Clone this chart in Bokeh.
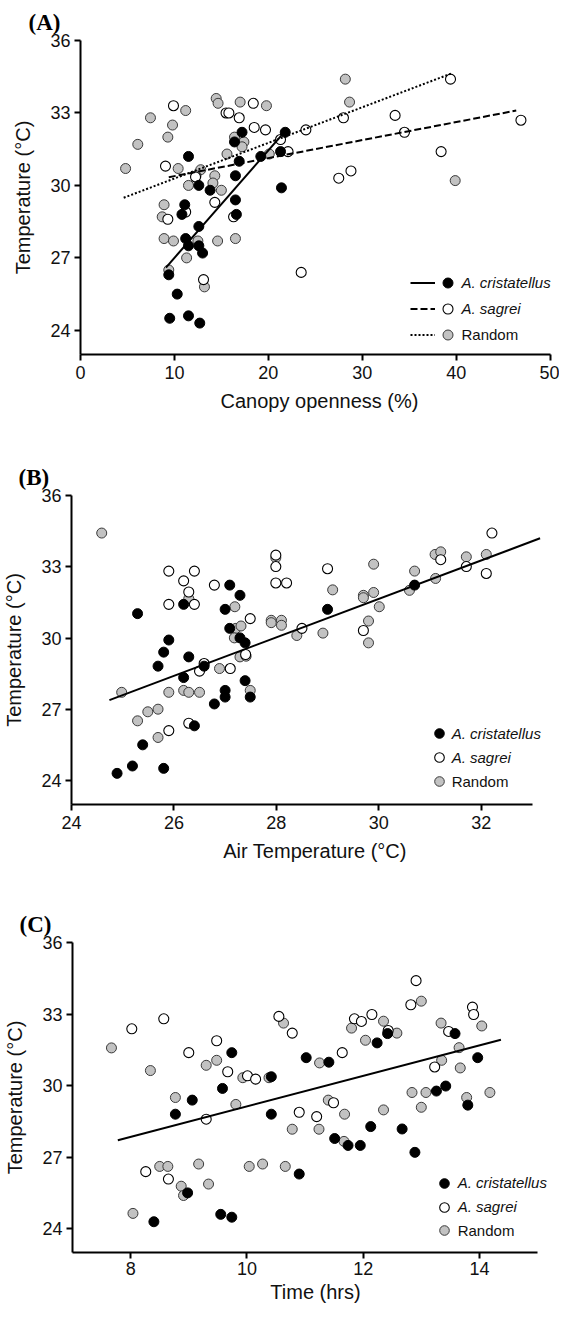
from bokeh.plotting import figure
from bokeh.models import Range1d, FixedTicker, Legend, LegendItem
from bokeh.embed import file_html
from bokeh.resources import INLINE

# ---------------- Data ----------------
# Panel A: canopy openness (%) vs temperature
a_cris_x = [11.5, 17.2, 16.4, 16.9, 16.5, 12.6, 13.8, 11.1, 10.8, 16.5, 16.6, 12.6, 11.2,
            11.5, 12.6, 13.0, 9.4, 10.3, 9.5, 11.5, 12.7, 19.2, 21.3, 21.8, 21.4]
a_cris_y = [31.2, 32.2, 31.8, 31.0, 30.4, 30.0, 29.8, 29.2, 28.8, 29.4, 28.8, 28.3, 27.8,
            27.5, 27.5, 27.2, 26.3, 25.5, 24.5, 24.6, 24.3, 31.2, 31.4, 32.2, 29.9]
a_sag_x = [9.9, 9.05, 12.25, 14.3, 11.2, 9.3, 16.3, 13.1, 15.5, 15.8, 16.9, 18.4, 18.5,
           19.7, 21.3, 22.1, 23.5, 24.0, 28.0, 33.5, 34.5, 39.4, 46.9, 38.4, 27.5, 28.8]
a_sag_y = [33.3, 30.8, 30.35, 29.3, 28.9, 28.6, 28.7, 26.1, 33.0, 33.0, 32.8, 33.4, 32.4,
           32.3, 31.9, 31.4, 26.4, 32.3, 32.8, 32.9, 32.2, 34.4, 32.7, 31.4, 30.3, 30.6]
a_rand_x = [4.8, 6.1, 7.45, 9.3, 9.8, 11.2, 10.4, 12.8, 12.3, 14.3, 14.1, 15.0, 11.5, 8.9,
            8.7, 8.9, 9.9, 12.5, 14.6, 16.5, 11.3, 9.4, 13.2, 14.45, 14.65, 17.0, 19.8,
            16.4, 17.4, 17.2, 15.6, 20.1, 28.2, 28.65, 39.9]
a_rand_y = [30.7, 31.7, 32.8, 32.0, 32.5, 33.1, 30.7, 30.65, 30.4, 30.4, 30.1, 29.8, 30.0,
            29.2, 28.7, 27.8, 27.7, 27.7, 27.7, 27.8, 27.0, 26.5, 25.8, 33.6, 33.4, 33.45,
            33.3, 32.0, 31.8, 31.6, 31.3, 31.3, 34.4, 33.45, 30.2]
a_fit_cris_x = [9.1, 21.8]
a_fit_cris_y = [26.6, 32.25]
a_fit_sag_x = [9.4, 46.4]
a_fit_sag_y = [30.34, 33.1]
a_fit_rand_x = [4.6, 39.6]
a_fit_rand_y = [29.49, 34.65]
a_xticks = [0, 10, 20, 30, 40, 50]

# Panel B: air temperature vs temperature
b_cris_x = [24.89, 25.19, 25.80, 25.39, 26.40, 25.29, 25.90, 25.80, 25.69, 26.29, 26.19,
            26.59, 26.19, 26.79, 27.0, 27.0, 27.0, 27.09, 27.09, 27.29, 27.29, 27.39,
            27.39, 27.49, 29.0, 30.70]
b_cris_y = [24.31, 24.62, 24.52, 25.51, 26.31, 31.03, 29.92, 29.41, 28.82, 29.21, 28.34,
            28.82, 31.42, 27.23, 27.52, 27.80, 31.21, 32.23, 30.41, 31.80, 30.01, 29.80,
            28.21, 27.52, 31.21, 32.23]
b_sag_x = [25.90, 25.90, 26.19, 26.29, 26.40, 26.40, 26.79, 27.49, 26.59, 26.50, 27.10,
           27.40, 25.90, 26.29, 27.99, 27.99, 27.99, 28.20, 28.50, 29.0, 29.70, 31.21,
           31.71, 32.10, 32.21]
b_sag_y = [32.82, 31.42, 32.41, 31.94, 32.82, 31.42, 32.23, 30.82, 28.93, 28.61, 28.72,
           29.31, 26.11, 26.42, 33.49, 33.01, 32.32, 32.32, 30.41, 32.92, 30.32, 33.30,
           33.01, 32.72, 34.42]
b_rand_x = [24.59, 24.98, 25.29, 25.49, 25.69, 25.69, 25.90, 26.19, 26.29, 26.50, 26.29,
            26.89, 27.19, 27.21, 27.31, 27.18, 27.29, 27.41, 27.49, 27.90, 27.90, 28.10,
            28.10, 27.99, 28.40, 28.91, 29.10, 29.70, 29.70, 29.80, 29.80, 29.90, 29.90,
            30.01, 30.60, 30.70, 31.11, 31.10, 31.21, 31.71, 32.10]
b_rand_y = [34.42, 27.72, 26.52, 26.90, 27.01, 25.82, 27.72, 27.80, 27.72, 27.72, 31.66,
            28.72, 31.32, 30.41, 30.51, 30.01, 29.21, 29.24, 27.80, 30.75, 30.65, 30.75,
            30.54, 33.38, 30.11, 30.21, 32.03, 31.80, 31.70, 30.72, 29.80, 33.11, 31.92,
            31.32, 32.01, 32.82, 32.51, 33.52, 33.63, 33.42, 33.52]
b_fit_x = [24.74, 33.15]
b_fit_y = [27.39, 34.20]
b_xticks = [24, 26, 28, 30, 32]

# Panel C: time of day vs temperature
c_cris_x = [8.40, 8.98, 8.77, 9.06, 9.55, 9.74, 9.58, 9.74, 10.42, 10.42, 10.90, 11.02,
            11.41, 11.51, 11.74, 11.95, 12.13, 12.24, 12.42, 12.67, 12.89, 13.26, 13.42,
            13.58, 13.80, 13.97]
c_cris_y = [24.29, 25.50, 28.80, 29.39, 24.60, 24.48, 29.88, 31.38, 30.37, 28.80, 26.29,
            31.17, 30.98, 27.78, 27.49, 27.49, 28.28, 31.79, 32.18, 28.18, 27.20, 29.77,
            29.98, 32.18, 29.18, 31.17]
c_sag_x = [8.02, 8.57, 8.26, 8.65, 9.0, 9.48, 9.30, 9.67, 10.01, 10.15, 10.55, 10.78,
           10.90, 11.2, 11.49, 11.64, 11.85, 11.97, 12.15, 12.43, 12.82, 12.91, 13.23,
           13.47, 13.88, 13.90]
c_sag_y = [32.38, 32.80, 26.39, 26.08, 31.38, 31.88, 28.59, 30.58, 30.41, 30.27, 32.90,
           32.20, 28.88, 28.70, 29.28, 31.38, 32.80, 32.69, 32.98, 32.31, 33.39, 34.40,
           30.78, 32.27, 33.29, 32.98]
c_rand_x = [7.67, 8.34, 8.04, 8.50, 8.64, 8.87, 8.91, 8.77, 9.17, 9.34, 9.30, 9.48, 9.81,
            9.93, 10.04, 10.27, 10.38, 10.63, 10.66, 10.78, 11.24, 11.25, 11.40, 11.67,
            11.68, 11.80, 12.04, 12.35, 12.35, 12.58, 12.84, 13.0, 13.0, 13.08, 13.34,
            13.35, 13.65, 13.67, 13.78, 14.04, 14.18]
c_rand_y = [31.58, 30.63, 24.64, 26.61, 26.61, 25.78, 25.39, 29.50, 26.71, 25.87, 30.85,
            31.06, 29.21, 30.33, 26.61, 26.71, 30.33, 32.62, 26.61, 28.17, 28.17, 30.95,
            29.39, 27.66, 28.80, 32.41, 31.90, 32.70, 28.98, 32.20, 29.71, 29.09, 33.54,
            29.71, 32.62, 31.06, 31.59, 30.74, 29.50, 32.50, 29.71]
c_fit_x = [7.78, 14.37]
c_fit_y = [27.71, 31.92]
c_xticks = [8, 10, 12, 14]

y_ticks = [24, 27, 30, 33, 36]
series_labels = ["A. cristatellus", "A. sagrei", "Random"]

FONT = "Liberation Sans"
GRAY = "#c2c2c2"


def make_panel(tag, xlabel, xr, xbounds, xticks, dims, title_offset, xlab_standoff,
               tick_standoff):
    w, h, bl, br, bt, bb = dims
    p = figure(width=w, height=h, x_range=Range1d(*xr), y_range=Range1d(23, 36),
               output_backend="svg", toolbar_location=None,
               min_border_left=bl, min_border_right=br, min_border_top=bt,
               min_border_bottom=bb, title=tag)
    p.outline_line_color = None
    p.xgrid.visible = False
    p.ygrid.visible = False
    p.background_fill_color = "white"
    p.border_fill_color = "white"
    p.title.text_font = "Liberation Serif"
    p.title.text_font_style = "bold"
    p.title.text_font_size = "23px"
    p.title.text_color = "black"
    p.title.align = "left"
    p.title.offset = title_offset
    p.title.standoff = 11
    p.xaxis.ticker = FixedTicker(ticks=xticks)
    p.yaxis.ticker = FixedTicker(ticks=y_ticks)
    p.xaxis.bounds = xbounds
    p.xaxis.axis_label = xlabel
    p.yaxis.axis_label = "Temperature (°C)"
    for ax in (p.xaxis[0], p.yaxis[0]):
        ax.axis_line_width = 2
        ax.axis_line_color = "black"
        ax.major_tick_line_width = 2
        ax.major_tick_line_color = "black"
        ax.major_tick_out = 6
        ax.major_tick_in = 0
        ax.minor_tick_out = 0
        ax.minor_tick_in = 0
        ax.major_label_text_font = FONT
        ax.major_label_text_font_size = "18px"
        ax.major_label_text_color = "#111111"
        ax.axis_label_text_font = FONT
        ax.axis_label_text_font_size = "20px"
        ax.axis_label_text_font_style = "normal"
        ax.axis_label_text_color = "#111111"
    p.xaxis.major_label_standoff = tick_standoff
    p.xaxis.axis_label_standoff = xlab_standoff
    p.yaxis.major_label_standoff = 4
    p.yaxis.axis_label_standoff = 13
    return p


def add_points(p, cx, cy, sx, sy, rx, ry):
    r_rand = p.scatter(rx, ry, size=10, marker="circle", fill_color=GRAY,
                       line_color="#3a3a3a", line_width=1)
    r_sag = p.scatter(sx, sy, size=10, marker="circle", fill_color="white",
                      line_color="black", line_width=1.1)
    r_cris = p.scatter(cx, cy, size=10, marker="circle", fill_color="black",
                       line_color="black", line_width=1)
    return r_cris, r_sag, r_rand


def add_marker_legends(p, rends, x, y_italic, y_rand, glyph, spacing, standoff):
    common = dict(orientation="vertical", glyph_width=glyph, glyph_height=glyph,
                  label_height=glyph, spacing=spacing, padding=0,
                  margin=0, border_line_alpha=0, background_fill_alpha=0,
                  label_standoff=standoff, label_text_font=FONT,
                  label_text_font_size="15px", label_text_color="#111111",
                  label_text_baseline="middle")
    lg1 = Legend(items=[LegendItem(label=series_labels[0], renderers=[rends[0]]),
                        LegendItem(label=series_labels[1], renderers=[rends[1]])],
                 location=(x, y_italic), label_text_font_style="italic",
                 label_width=92, **common)
    lg2 = Legend(items=[LegendItem(label=series_labels[2], renderers=[rends[2]])],
                 location=(x, y_rand), label_text_font_style="normal",
                 label_width=60, **common)
    p.add_layout(lg1)
    p.add_layout(lg2)


# ---------------- Panel A ----------------
pA = make_panel("(A)", "Canopy openness (%)", (0, 50.9), (0, 50), a_xticks,
                (559, 437, 80, 1, 40, 83), -52, 8, 5)
rA = add_points(pA, a_cris_x, a_cris_y, a_sag_x, a_sag_y, a_rand_x, a_rand_y)
lA1 = pA.line(a_fit_cris_x, a_fit_cris_y, line_color="black", line_width=2)
lA2 = pA.line(a_fit_sag_x, a_fit_sag_y, line_color="black", line_width=2, line_dash="7 3")
lA3 = pA.line(a_fit_rand_x, a_fit_rand_y, line_color="black", line_width=2, line_dash="2 2")
line_legend = Legend(items=[LegendItem(label=" ", renderers=[lA1]),
                            LegendItem(label=" ", renderers=[lA2]),
                            LegendItem(label=" ", renderers=[lA3])],
                     location=(330, 7.5), orientation="vertical", glyph_width=25,
                     glyph_height=25, label_height=25, label_width=0, spacing=1,
                     padding=0, margin=0, border_line_alpha=0, background_fill_alpha=0,
                     label_standoff=0, label_text_font_size="14px")
pA.add_layout(line_legend)
add_marker_legends(pA, rA, 354.5, 33.5, 7.5, 25, 1, 2)

# ---------------- Panel B ----------------
pB = make_panel("(B)", "Air Temperature (°C)", (24, 33.51), (24, 33), b_xticks,
                (559, 445, 71, 1, 58, 78), -53, 8, 5)
rB = add_points(pB, b_cris_x, b_cris_y, b_sag_x, b_sag_y, b_rand_x, b_rand_y)
pB.line(b_fit_x, b_fit_y, line_color="black", line_width=2)
add_marker_legends(pB, rB, 355.7, 34.7, 11, 24, 0, 1)

# ---------------- Panel C ----------------
pC = make_panel("(C)", "Time (hrs)", (7, 15.36), (7, 15), c_xticks,
                (559, 427, 72, 1, 60, 57), -53, 3, 3)
rC = add_points(pC, c_cris_x, c_cris_y, c_sag_x, c_sag_y, c_rand_x, c_rand_y)
pC.line(c_fit_x, c_fit_y, line_color="black", line_width=2)
add_marker_legends(pC, rC, 359.7, 33.3, 10, 24, 0, 2)

# separate roots, stacked vertically (each panel keeps its own frame geometry)
open("out.html", "w").write(file_html([pA, pB, pC], INLINE))
